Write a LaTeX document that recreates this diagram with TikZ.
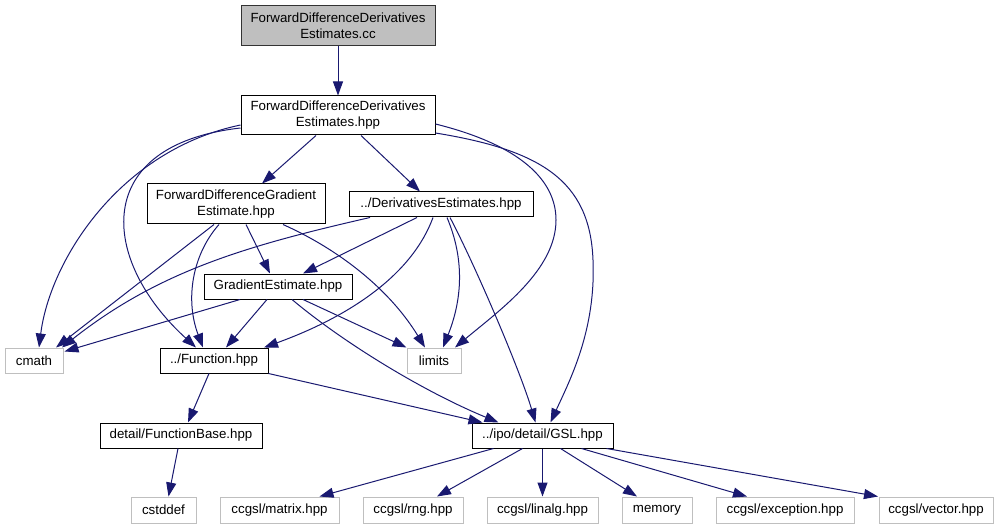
\documentclass[tikz,border=0pt]{standalone}
\usepackage{fontspec}
\setmainfont{Liberation Sans}
\usetikzlibrary{arrows.meta,calc}
\definecolor{edgeblue}{HTML}{191970}
\definecolor{boxgray}{HTML}{BFBFBF}
\begin{document}
\begin{tikzpicture}[x=1pt,y=-1pt,
  every node/.style={font=\fontsize{13.3}{16}\selectfont, inner sep=0pt, align=center},
  mainbox/.style={draw=black, line width=1pt, fill=white},
  extbox/.style={draw=boxgray, line width=1pt, fill=white},
  rootbox/.style={draw=black!80, line width=1pt, fill=boxgray},
  e/.style={draw=edgeblue, line width=1pt, -{Triangle[length=14pt,width=10pt]}}]
\useasboundingbox (0,0) rectangle (1003,529);
% nodes
\node[rootbox, minimum width=194pt, minimum height=40pt] (cc) at (338,26) {ForwardDifferenceDerivatives\\Estimates.cc};
\node[mainbox, minimum width=194pt, minimum height=39pt] (hpp) at (338,115.5) {ForwardDifferenceDerivatives\\Estimates.hpp};
\node[mainbox, minimum width=178pt, minimum height=40pt] (fdg) at (236,204) {ForwardDifferenceGradient\\Estimate.hpp};
\node[mainbox, minimum width=184pt, minimum height=25pt] (der) at (441,204.5) {../DerivativesEstimates.hpp};
\node[mainbox, minimum width=148pt, minimum height=25pt] (grad) at (278,286.5) {GradientEstimate.hpp};
\node[extbox, minimum width=58pt, minimum height=25pt] (cmath) at (34,360.5) {cmath};
\node[mainbox, minimum width=108pt, minimum height=25pt] (func) at (214,360.5) {../Function.hpp};
\node[extbox, minimum width=54pt, minimum height=25pt] (limits) at (434,360.5) {limits};
\node[mainbox, minimum width=162pt, minimum height=25pt] (fbase) at (181,435.5) {detail/FunctionBase.hpp};
\node[mainbox, minimum width=141pt, minimum height=25pt] (gsl) at (542.5,435.5) {../ipo/detail/GSL.hpp};
\node[extbox, minimum width=65pt, minimum height=26pt] (cstddef) at (163.5,510) {cstddef};
\node[extbox, minimum width=119pt, minimum height=26pt] (matrix) at (279.5,510) {ccgsl/matrix.hpp};
\node[extbox, minimum width=100pt, minimum height=26pt] (rng) at (413,510) {ccgsl/rng.hpp};
\node[extbox, minimum width=111pt, minimum height=26pt] (linalg) at (542.5,510) {ccgsl/linalg.hpp};
\node[extbox, minimum width=70pt, minimum height=26pt] (memory) at (657,510) {memory};
\node[extbox, minimum width=138pt, minimum height=26pt] (exception) at (785,510) {ccgsl/exception.hpp};
\node[extbox, minimum width=114pt, minimum height=26pt] (vector) at (936,510) {ccgsl/vector.hpp};
% edges
\draw[e] (cc) -- (hpp);
\draw[e] ($(hpp.south)+(-22,0)$) -- ($(fdg.north)+(26,0)$);
\draw[e] ($(hpp.south)+(23,0)$) -- ($(der.north)+(-21,0)$);
\draw[e] ($(hpp.west)+(0,9.5)$) .. controls (120,150) and (50,260) .. ($(cmath.north)+(5,0)$);
\draw[e] ($(hpp.west)+(0,12.5)$) .. controls (90,145) and (100,260) .. ($(func.north)+(-18,0)$);
\draw[e] ($(hpp.east)+(0,8.5)$) .. controls (520,145) and (556,180) .. (556,220) .. controls (556,270) and (500,310) .. ($(limits.north)+(21,0)$);
\draw[e] ($(hpp.east)+(0,17.5)$) .. controls (540,150) and (590,180) .. (593,260) .. controls (596,330) and (570,380) .. ($(gsl.north)+(8,0)$);
\draw[e] ($(fdg.south)+(10,0)$) -- ($(grad.north)+(-8,0)$);
\draw[e] ($(fdg.south)+(-22,0)$) -- ($(cmath.north)+(22,0)$);
\draw[e] ($(fdg.south)+(-17,0)$) .. controls (192,255) and (185,300) .. ($(func.north)+(-11,0)$);
\draw[e] ($(fdg.south)+(47,0)$) .. controls (340,250) and (390,290) .. ($(limits.north)+(-9,0)$);
\draw[e] ($(der.south)+(-24,0)$) -- ($(grad.north)+(25,0)$);
\draw[e] ($(der.south)+(-71,0)$) .. controls (250,245) and (160,270) .. ($(cmath.north)+(28,0)$);
\draw[e] ($(der.south)+(-8,0)$) .. controls (410,280) and (340,320) .. ($(func.north)+(50,0)$);
\draw[e] ($(der.south)+(6,0)$) .. controls (465,260) and (462,300) .. ($(limits.north)+(9,0)$);
\draw[e] ($(der.south)+(9,0)$) .. controls (475,265) and (520,370) .. ($(gsl.north)+(-7,0)$);
\draw[e] ($(grad.south)+(-38,0)$) -- ($(cmath.east)+(1,-9)$);
\draw[e] ($(grad.south)+(-11,0)$) -- ($(func.north)+(12,0)$);
\draw[e] ($(grad.south)+(25,0)$) -- (limits.north west);
\draw[e] ($(grad.south)+(14,0)$) .. controls (340,340) and (420,390) .. ($(gsl.north)+(-44,0)$);
\draw[e] ($(func.south)+(-5,0)$) -- ($(fbase.north)+(7,0)$);
\draw[e] (func.south east) -- ($(gsl.north)+(-60,0)$);
\draw[e] ($(fbase.south)+(-3,0)$) -- ($(cstddef.north)+(5,0)$);
\draw[e] ($(gsl.south)+(-49,0)$) -- ($(matrix.north)+(40,0)$);
\draw[e] ($(gsl.south)+(-20,0)$) -- ($(rng.north)+(24,0)$);
\draw[e] (gsl.south) -- (linalg.north);
\draw[e] ($(gsl.south)+(18,0)$) -- ($(memory.north)+(-20,0)$);
\draw[e] ($(gsl.south)+(39,0)$) -- ($(exception.north)+(-38,0)$);
\draw[e] ($(gsl.south)+(64,0)$) -- ($(vector.north)+(-58,0)$);
\end{tikzpicture}
\end{document}
